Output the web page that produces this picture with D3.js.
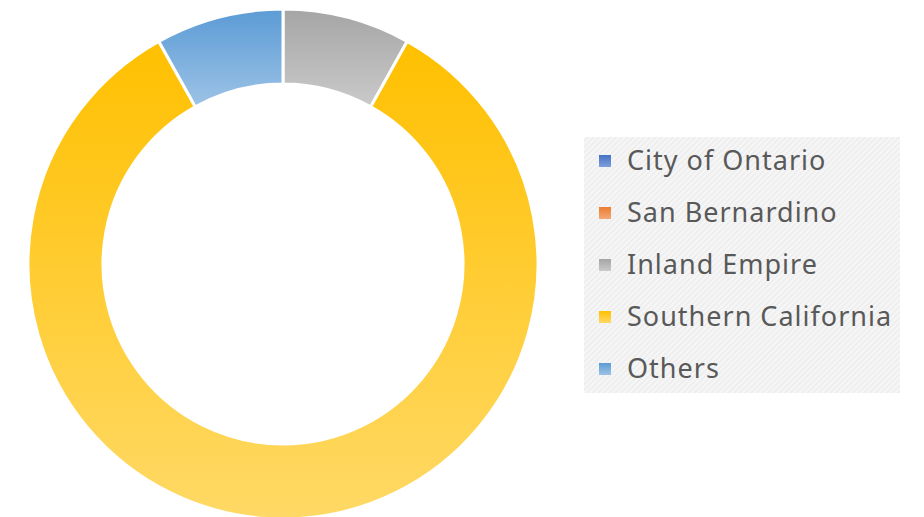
<!DOCTYPE html>
<html>
<head>
<meta charset="utf-8">
<script src="https://cdn.jsdelivr.net/npm/d3@7"></script>
<style>
  html, body { margin: 0; padding: 0; background: #ffffff; }
  svg { display: block; }
</style>
</head>
<body>
<svg id="chart" width="924" height="517"></svg>
<script>
// Regional share (percent)
const categories = ["City of Ontario", "San Bernardino", "Inland Empire", "Southern California", "Others"];
const values = [0, 0, 8.1, 83.8, 8.1];
// gradient stops per slice: top colour, bottom colour
const topColors = ["#4472C4", "#ED7D31", "#A5A5A5", "#FFC000", "#5B9BD5"];
const bottomColors = ["#7F9FDA", "#F3A877", "#CACACA", "#FFD966", "#9DC3E6"];

const svg = d3.select("#chart");
const defs = svg.append("defs");

categories.forEach((c, i) => {
  const g = defs.append("linearGradient")
    .attr("id", "grad" + i)
    .attr("x1", 0).attr("y1", 0).attr("x2", 0).attr("y2", 1);
  g.append("stop").attr("offset", "0%").attr("stop-color", topColors[i]);
  g.append("stop").attr("offset", "100%").attr("stop-color", bottomColors[i]);
});

// hatched legend background
const pat = defs.append("pattern")
  .attr("id", "hatch")
  .attr("patternUnits", "userSpaceOnUse")
  .attr("width", 4).attr("height", 4)
  .attr("patternTransform", "rotate(45)");
pat.append("rect").attr("width", 4).attr("height", 4).attr("fill", "#f6f6f6");
pat.append("rect").attr("width", 1.5).attr("height", 4).attr("fill", "#ececec");

const cx = 283, cy = 264, outerR = 255, innerR = 180;

const pie = d3.pie().sort(null).value(d => d.value);
const arc = d3.arc().innerRadius(innerR).outerRadius(outerR);
const data = categories.map((c, i) => ({ name: c, value: values[i], idx: i }));

const gPie = svg.append("g").attr("transform", `translate(${cx},${cy})`);
gPie.selectAll("path")
  .data(pie(data).filter(d => d.data.value > 0))
  .join("path")
  .attr("d", arc)
  .attr("fill", d => `url(#grad${d.data.idx})`)
  .attr("stroke", "#ffffff")
  .attr("stroke-width", 3);

// legend
const lx = 584, ly = 137, lw = 316, lh = 256;
svg.append("rect")
  .attr("x", lx).attr("y", ly).attr("width", lw).attr("height", lh)
  .attr("fill", "url(#hatch)");

const rowY = d3.scalePoint().domain(categories).range([161, 369]);
const leg = svg.append("g");
const rows = leg.selectAll("g").data(data).join("g")
  .attr("transform", d => `translate(0,${rowY(d.name)})`);
rows.append("rect")
  .attr("x", 599).attr("y", -6).attr("width", 12).attr("height", 12)
  .attr("fill", d => `url(#grad${d.idx})`);
rows.append("text")
  .attr("x", 627).attr("y", 0)
  .attr("dy", "0.35em")
  .attr("font-family", "'Noto Sans', 'Open Sans', sans-serif")
  .attr("font-size", 27)
  .attr("letter-spacing", "1px")
  .attr("fill", "#595959")
  .text(d => d.name);
</script>
</body>
</html>
